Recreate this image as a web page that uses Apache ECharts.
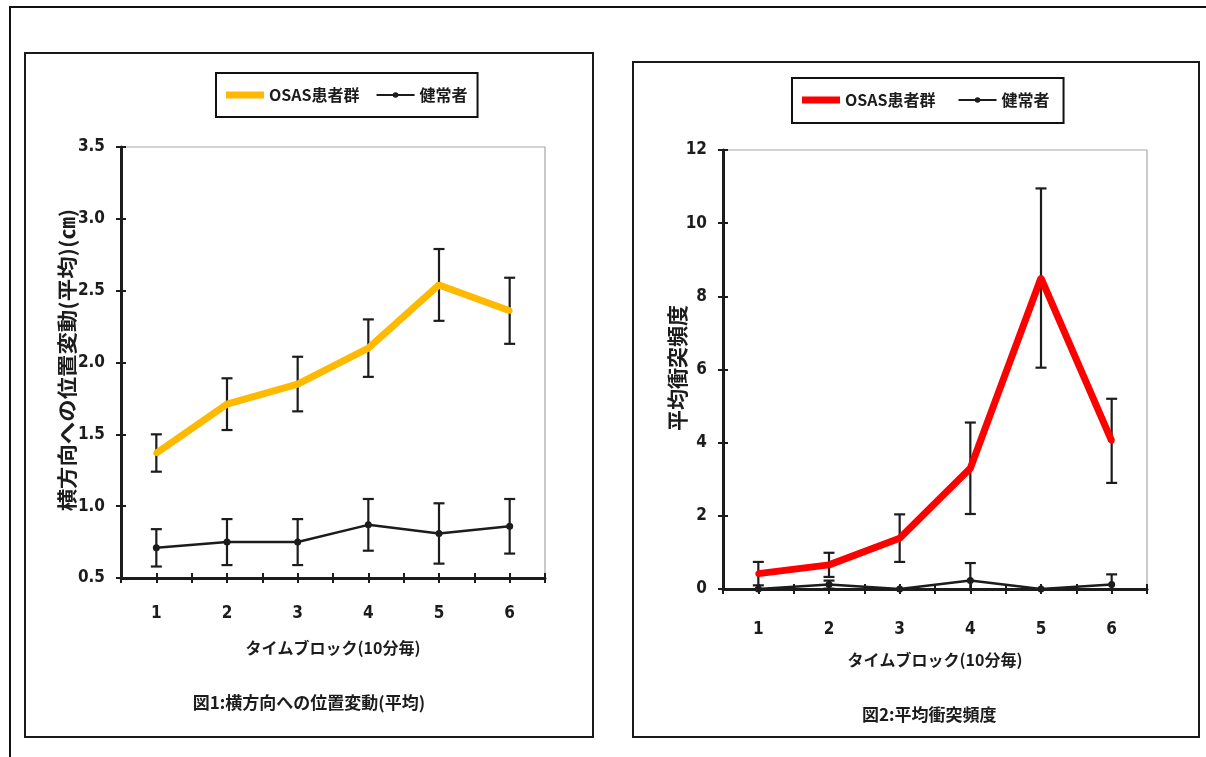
<!DOCTYPE html>
<html>
<head>
<meta charset="utf-8">
<script src="https://cdn.jsdelivr.net/npm/echarts@6/dist/echarts.min.js"></script>
<style>
  html, body { margin: 0; padding: 0; background: #fff; }
  body { width: 1206px; height: 757px; position: relative; overflow: hidden; }
  #page { position: absolute; left: 9px; top: 6px; width: 1300px; height: 800px;
          border-top: 2px solid #111; border-left: 2px solid #111; }
  .panel { position: absolute; border: 2px solid #1a1a1a; background: #fff; }
  #fig1 { left: 24px; top: 52px; width: 566px; height: 682px; }
  #fig2 { left: 632px; top: 61px; width: 564px; height: 673px; }
</style>
</head>
<body>
<div id="page"></div>
<div id="fig1" class="panel"></div>
<div id="fig2" class="panel"></div>
<script>
// time blocks (10 min each)
const timeBlocks = [1, 2, 3, 4, 5, 6];
const seriesNames = ['OSAS患者群', '健常者'];

// Fig.1: lateral position change (mean ± SD)
const shiftOsas      = [1.37, 1.71, 1.85, 2.10, 2.54, 2.36];
const shiftOsasSd    = [0.13, 0.18, 0.19, 0.20, 0.25, 0.23];
const shiftNormal    = [0.71, 0.75, 0.75, 0.87, 0.81, 0.86];
const shiftNormalSd  = [0.13, 0.16, 0.16, 0.18, 0.21, 0.19];

// Fig.2: mean collision frequency (mean ± SD)
const hitOsas        = [0.42, 0.66, 1.39, 3.30, 8.50, 4.05];
const hitOsasSd      = [0.32, 0.33, 0.65, 1.25, 2.45, 1.15];
const hitNormal      = [0.00, 0.12, 0.00, 0.23, 0.00, 0.12];
const hitNormalSd    = [0.00, 0.11, 0.00, 0.48, 0.00, 0.28];

const CJK = "'Noto Sans CJK JP', sans-serif";
const NUM = "'DejaVu Sans', 'Noto Sans', sans-serif";
const NUM_WEIGHT = 'bold condensed';
const INK = '#1c1c1c';

function points(means) {
  return timeBlocks.map((t, i) => [t, means[i]]);
}
function ranges(means, sds) {
  return timeBlocks.map((t, i) => [t, means[i] - sds[i], means[i] + sds[i], sds[i]]);
}

// vertical whisker with caps at mean ± SD
function errorBar(params, api) {
  if (api.value(3) <= 0) return null;
  const x = api.value(0);
  const lo = api.coord([x, api.value(1)]);
  const hi = api.coord([x, api.value(2)]);
  const w = 5.5;
  const st = { stroke: INK, lineWidth: 2.2 };
  return {
    type: 'group',
    children: [
      { type: 'line', shape: { x1: hi[0], y1: hi[1], x2: lo[0], y2: lo[1] }, style: st },
      { type: 'line', shape: { x1: hi[0] - w, y1: hi[1], x2: hi[0] + w, y2: hi[1] }, style: st },
      { type: 'line', shape: { x1: lo[0] - w, y1: lo[1], x2: lo[0] + w, y2: lo[1] }, style: st }
    ]
  };
}

function buildOption(cfg) {
  const tickOut = { show: true, length: 5, lineStyle: { color: INK, width: 2 } };
  const tickIn  = { show: true, inside: true, length: 5, lineStyle: { color: INK, width: 2 } };
  const grid = { left: cfg.grid[0], top: cfg.grid[1], width: cfg.grid[2], height: cfg.grid[3],
                 show: true, borderColor: '#a8a8a8', borderWidth: 1.2, backgroundColor: 'transparent' };
  const xBase = { type: 'value', min: 0.5, max: 6.5, interval: 0.5, gridIndex: 0 };
  const yBase = { type: 'value', min: cfg.yMin, max: cfg.yMax, interval: cfg.yStep, gridIndex: 0 };
  return {
    animation: false,
    backgroundColor: '#fff',
    legend: {
      data: [{ name: seriesNames[0], icon: 'rect' }, { name: seriesNames[1] }],
      left: cfg.legend[0], top: cfg.legend[1],
      itemWidth: 38, itemHeight: 7, itemGap: cfg.legendGap,
      borderColor: '#111', borderWidth: 2, borderRadius: 0,
      padding: cfg.legendPad,
      textStyle: { fontFamily: CJK, fontSize: 16, fontWeight: 'bold', color: INK }
    },
    grid: grid,
    xAxis: [
      Object.assign({}, xBase, {
        name: 'タイムブロック(10分毎)', nameLocation: 'middle', nameGap: cfg.xNameGap,
        nameTextStyle: { fontFamily: CJK, fontSize: 16, fontWeight: 'bold', color: INK },
        axisLine: { show: true, onZero: false, lineStyle: { color: INK, width: 3 } },
        axisTick: tickOut,
        splitLine: { show: false },
        axisLabel: { margin: cfg.xLabelMargin, fontFamily: NUM, fontSize: 17, fontWeight: NUM_WEIGHT, color: INK,
                     formatter: v => (Number.isInteger(v) ? String(v) : '') }
      }),
      Object.assign({}, xBase, {
        position: 'bottom', axisLine: { show: false }, axisTick: tickIn,
        axisLabel: { show: false }, splitLine: { show: false }
      })
    ],
    yAxis: [
      Object.assign({}, yBase, {
        axisLine: { show: true, onZero: false, lineStyle: { color: INK, width: 3 } },
        axisTick: tickOut,
        splitLine: { show: false },
        axisLabel: { margin: cfg.yLabelMargin, fontFamily: NUM, fontSize: 17, fontWeight: NUM_WEIGHT, color: INK,
                     formatter: cfg.yFmt }
      }),
      Object.assign({}, yBase, {
        position: 'left', axisLine: { show: false }, axisTick: tickIn,
        axisLabel: { show: false }, splitLine: { show: false }
      })
    ],
    graphic: [
      {
        type: 'text', left: cfg.captionLeft, top: cfg.captionTop,
        style: { text: cfg.caption, font: 'bold 17px ' + CJK, fill: INK }
      },
      {
        // vertical y-axis title, reading bottom to top
        type: 'text', x: cfg.yNamePos[0], y: cfg.yNamePos[1], rotation: Math.PI / 2,
        scaleX: cfg.yNameStretch, scaleY: 1,
        style: { text: cfg.yName, font: 'bold ' + cfg.yNameSize + 'px ' + CJK, fill: INK,
                 align: 'center', verticalAlign: 'middle',
                 textAlign: 'center', textVerticalAlign: 'middle' }
      }
    ],
    series: [
      { type: 'custom', name: 'sd-normal', renderItem: errorBar, data: ranges(cfg.normal, cfg.normalSd),
        clip: true, z: 2, silent: true, encode: { x: 0, y: [1, 2] } },
      { type: 'custom', name: 'sd-osas', renderItem: errorBar, data: ranges(cfg.osas, cfg.osasSd),
        clip: true, z: 2, silent: true, encode: { x: 0, y: [1, 2] } },
      { type: 'line', name: seriesNames[1], data: points(cfg.normal), z: 3,
        symbol: 'circle', symbolSize: 7, showSymbol: true,
        lineStyle: { color: INK, width: 2.5 }, itemStyle: { color: INK } },
      { type: 'line', name: seriesNames[0], data: points(cfg.osas), z: 4,
        symbol: 'circle', symbolSize: 6, showSymbol: true,
        lineStyle: { color: cfg.color, width: 7 }, itemStyle: { color: cfg.color } }
    ]
  };
}

const chart1 = echarts.init(document.getElementById('fig1'), null, { renderer: 'canvas' });
chart1.setOption(buildOption({
  grid: [95, 93, 424, 431],
  legend: [190, 19], legendGap: 16, legendPad: [14, 10, 14, 10],
  yMin: 0.5, yMax: 3.5, yStep: 0.5,
  yFmt: v => v.toFixed(1),
  yName: '横方向への位置変動(平均)(㎝)', yNamePos: [41, 306], yNameSize: 20, yNameStretch: 1.12,
  xNameGap: 62, xLabelMargin: 27, yLabelMargin: 16,
  osas: shiftOsas, osasSd: shiftOsasSd, normal: shiftNormal, normalSd: shiftNormalSd,
  color: '#FFBA00',
  caption: '図1:横方向への位置変動(平均)', captionLeft: 'center', captionTop: 640
}));

const chart2 = echarts.init(document.getElementById('fig2'), null, { renderer: 'canvas' });
chart2.setOption(buildOption({
  grid: [89, 87, 424, 439],
  legend: [158, 15], legendGap: 22, legendPad: [14, 14, 15, 10],
  yMin: 0, yMax: 12, yStep: 2,
  yFmt: v => String(v),
  yName: '平均衝突頻度', yNamePos: [43, 305], yNameSize: 21, yNameStretch: 1,
  xNameGap: 63, xLabelMargin: 32, yLabelMargin: 16,
  osas: hitOsas, osasSd: hitOsasSd, normal: hitNormal, normalSd: hitNormalSd,
  color: '#FF0000',
  caption: '図2:平均衝突頻度', captionLeft: 228, captionTop: 643
}));
</script>
</body>
</html>
